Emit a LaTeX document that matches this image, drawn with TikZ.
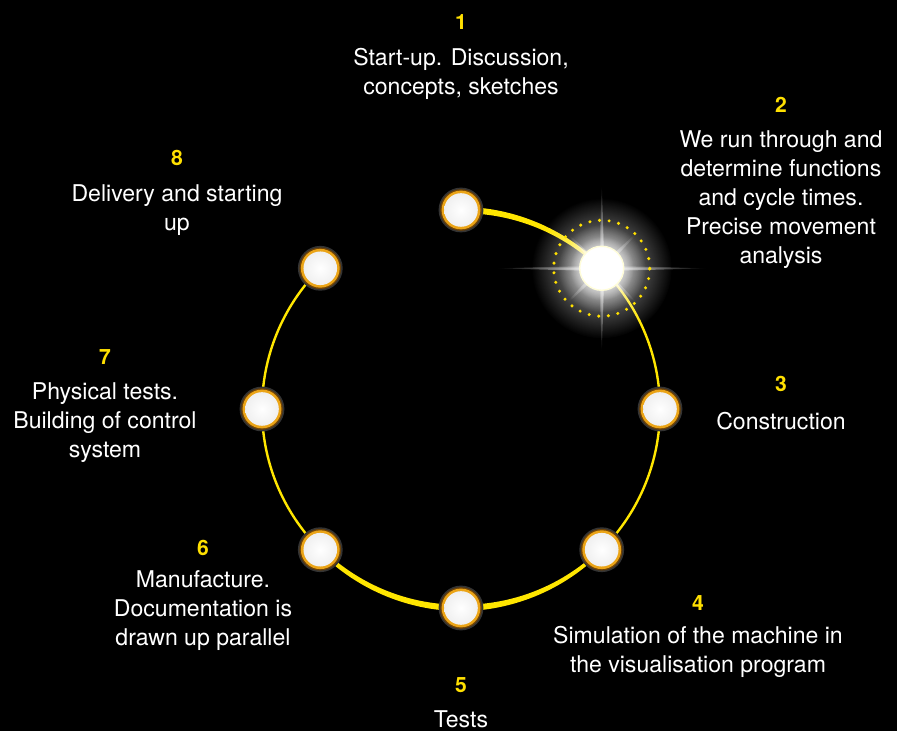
\documentclass[tikz,border=0pt]{standalone}
\usepackage{fontspec}
\setmainfont{TeX Gyre Heros}
\usetikzlibrary{calc,fadings}

\definecolor{trackyellow}{HTML}{FFE600}
\definecolor{numyellow}{HTML}{FFE000}
\definecolor{ringgold}{HTML}{EBA416}
\definecolor{ringdark}{HTML}{6E4308}
\tikzfading[name=glowfade, inner color=transparent!0, outer color=transparent!100]

\tikzset{
  stage/.style={circle, minimum size=1.12cm, inner sep=0pt, fill=gray!40!black,
    path picture={
      \fill[ringdark] (path picture bounding box.center) circle (0.52cm);
      \fill[ringgold] (path picture bounding box.center) circle (0.485cm);
      \shade[inner color=white, outer color=gray!12]
        (path picture bounding box.center) circle (0.42cm);}},
  activestage/.style={circle, minimum size=1.1cm, inner sep=0pt, fill=white,
    draw=yellow!15, line width=1pt},
  stepnum/.style={text=numyellow, font=\bfseries\fontsize{15}{17}\selectfont},
  steptext/.style={text=white, align=center, font=\fontsize{16.4}{20.6}\selectfont},
}

\begin{document}
\begin{tikzpicture}[x=0.025cm, y=0.025cm]
  \fill[black] (0,0) rectangle (897,731);
  \useasboundingbox (0,0) rectangle (897,731);
  \coordinate (c) at (461,322);
  \def\R{199}
  % tapered piece of the track: from angle, to angle, width at start, width at end
  \newcommand{\taper}[4]{\fill[trackyellow, shift={(c)}]
      plot[domain=#1:#2, samples=40] (\x:{\R+(#3+(#4-#3)*(\x-#1)/(#2-#1))/2})
      -- plot[domain=#2:#1, samples=40] (\x:{\R-(#3+(#4-#3)*(\x-#1)/(#2-#1))/2}) -- cycle;}

  \foreach \i/\a in {1/90, 2/45, 3/0, 4/-45, 5/-90, 6/-135, 7/180, 8/135}
    \coordinate (p\i) at ($(c)+(\a:\R)$);

  % track
  \taper{90}{45}{6.5}{3.5}
  \draw[trackyellow, line width=1.7pt] (p2) arc[start angle=45, end angle=-45, radius=\R];
  \taper{-45}{-90}{3.2}{6.5}
  \taper{-90}{-135}{6.5}{4}
  \draw[trackyellow, line width=1.7pt] (p6) arc[start angle=-135, end angle=-225, radius=\R];

  % stations
  \foreach \i in {1,3,4,5,6,7,8}
    \node[stage] (s\i) at (p\i) {};

  % glowing station
  \fill[white, fill opacity=0.7, path fading=glowfade] (p2) circle (70);
  \fill[white, fill opacity=0.9, path fading=glowfade] (p2) circle (44);
  \fill[white, fill opacity=0.9, path fading=glowfade] (p2) circle (32);
  \foreach \ang/\len/\wid in {0/105/3, 90/85/3, 45/65/2.5, 135/65/2.5}
    \fill[white, fill opacity=0.75, path fading=glowfade, rotate around={\ang:(p2)}]
      ($(p2)+(-\len,0)$) -- ($(p2)+(0,\wid)$) -- ($(p2)+(\len,0)$) -- ($(p2)+(0,-\wid)$) -- cycle;
  \draw[numyellow, line width=2.4pt, line cap=round, dash pattern=on 0pt off 6.9pt]
    (p2) circle (48);
  \node[activestage] (s2) at (p2) {};

  % numbers
  \node[stepnum] (n1) at (461,709) {1};
  \node[stepnum] (n2) at (781,626) {2};
  \node[stepnum] (n3) at (781,347) {3};
  \node[stepnum] (n4) at (698,128) {4};
  \node[stepnum] (n5) at (461,46) {5};
  \node[stepnum] (n6) at (203,183) {6};
  \node[stepnum] (n7) at (105,374) {7};
  \node[stepnum] (n8) at (177,573) {8};

  % texts
  \node[steptext] (t1) at (461,657) {Start-up. Discussion,\\concepts, sketches};
  \node[steptext] (t2) at (781,531) {We run through and\\determine functions\\and cycle times.\\Precise movement\\analysis};
  \node[steptext] (t3) at (781,310) {Construction};
  \node[steptext] (t4) at (698,79) {Simulation of the machine in\\the visualisation program};
  \node[steptext] (t5) at (461,12) {Tests};
  \node[steptext] (t6) at (203,120) {Manufacture.\\Documentation is\\drawn up parallel};
  \node[steptext] (t7) at (105,308) {Physical tests.\\Building of control\\system};
  \node[steptext] (t8) at (177,521) {Delivery and starting\\up};
\end{tikzpicture}
\end{document}
